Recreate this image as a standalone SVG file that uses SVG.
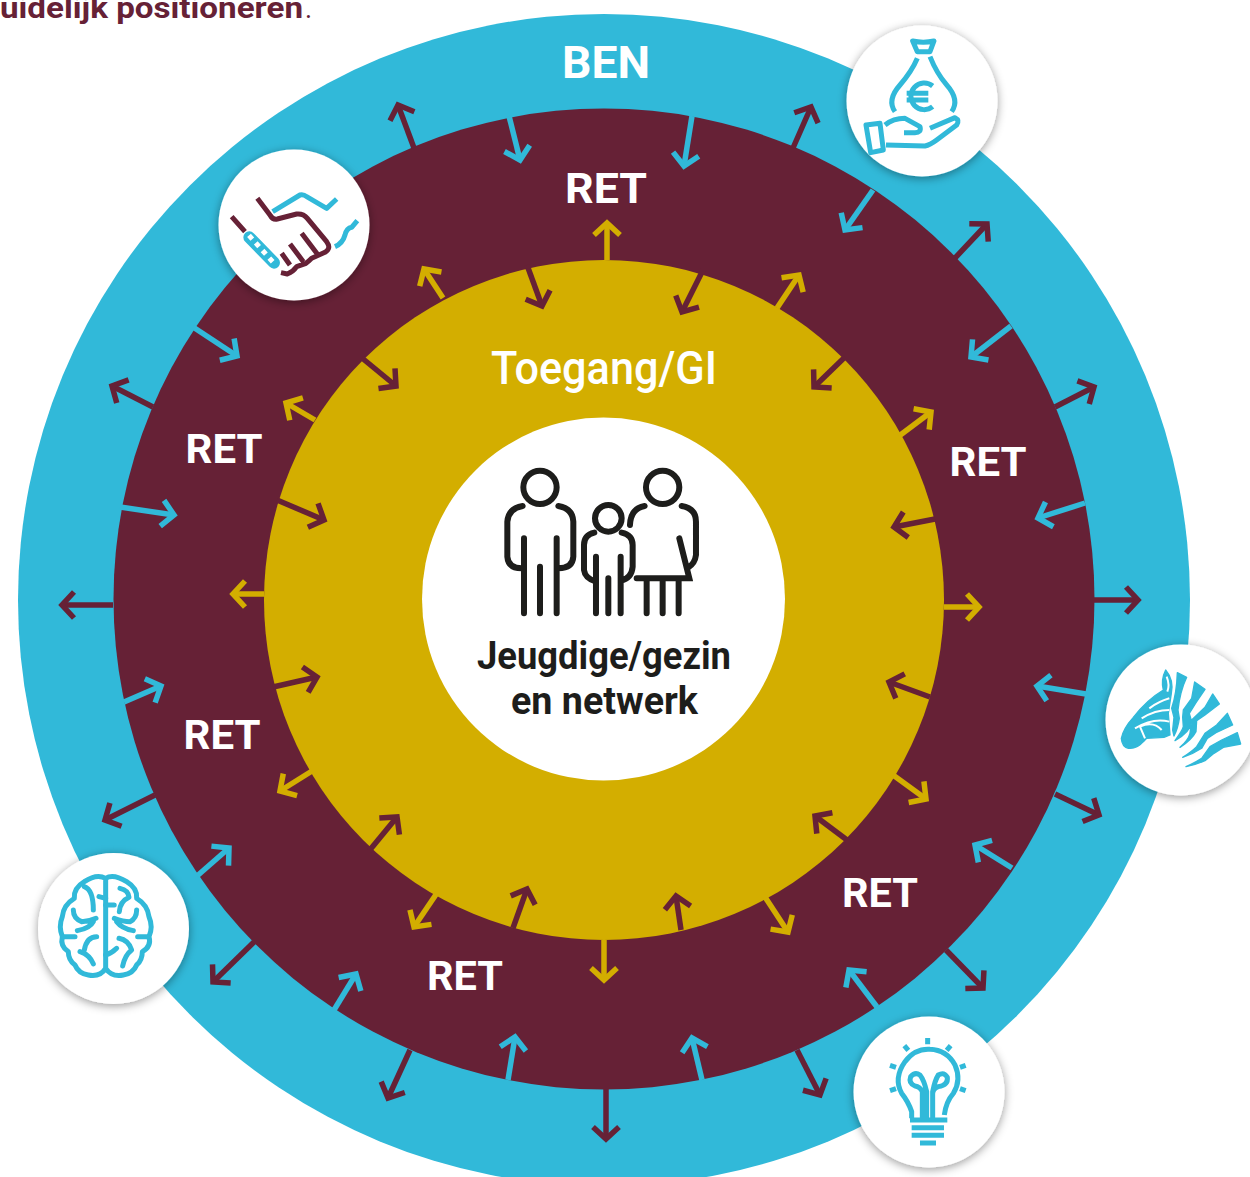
<svg xmlns="http://www.w3.org/2000/svg" width="1250" height="1177" viewBox="0 0 1250 1177">
<style>
text{font-family:Roboto,"Liberation Sans",sans-serif;font-weight:700;fill:#fff;text-anchor:middle}
.dk{fill:#1d1d1b}
.c line{stroke-width:5.500;fill:none}
.t{stroke:#31b9d9}.m{stroke:#662136}.g{stroke:#d3ae00}
.ic{fill:none;stroke-width:15;stroke-linejoin:round}
.dw{fill:#fff;filter:url(#sh)}
</style>
<defs>
<filter id="sh" x="-20%" y="-20%" width="140%" height="140%"><feDropShadow dx="0" dy="2" stdDeviation="5" flood-color="#000" flood-opacity=".4"/></filter>
<marker id="ht" markerUnits="userSpaceOnUse" markerWidth="40" markerHeight="40" refX="20" refY="20" orient="auto"><path d="M8 7 L20 20 L8 33" fill="none" stroke="#31b9d9" stroke-width="5.500"/></marker>
<marker id="hm" markerUnits="userSpaceOnUse" markerWidth="40" markerHeight="40" refX="20" refY="20" orient="auto"><path d="M8 7 L20 20 L8 33" fill="none" stroke="#662136" stroke-width="5.500"/></marker>
<marker id="hg" markerUnits="userSpaceOnUse" markerWidth="40" markerHeight="40" refX="20" refY="20" orient="auto"><path d="M8 7 L20 20 L8 33" fill="none" stroke="#d3ae00" stroke-width="5.500"/></marker>
</defs>
<rect width="1250" height="1177" fill="#fff"/>
<text x="0" y="18" style="font-size:30px;fill:#662136;text-anchor:start" textLength="303" lengthAdjust="spacingAndGlyphs">uidelijk positioneren</text>
<text x="305" y="18" style="font-size:27px;font-weight:400;fill:#662136;text-anchor:start">.</text>
<g id="ring-ben"><circle cx="604" cy="600" r="586" fill="#31b9d9"/><text x="606" y="78" style="font-size:45px" textLength="88" lengthAdjust="spacingAndGlyphs">BEN</text></g>
<g id="ring-ret"><circle cx="604" cy="599" r="490.500" fill="#662136"/>
<text x="606" y="203" style="font-size:43px" textLength="82" lengthAdjust="spacingAndGlyphs">RET</text>
<text x="988" y="476" style="font-size:41px" textLength="77" lengthAdjust="spacingAndGlyphs">RET</text>
<text x="224" y="463" style="font-size:41px" textLength="77" lengthAdjust="spacingAndGlyphs">RET</text>
<text x="222" y="749" style="font-size:41px" textLength="77" lengthAdjust="spacingAndGlyphs">RET</text>
<text x="880" y="907" style="font-size:41px" textLength="76" lengthAdjust="spacingAndGlyphs">RET</text>
<text x="465" y="990" style="font-size:41px" textLength="76" lengthAdjust="spacingAndGlyphs">RET</text></g>
<g id="ring-toegang"><circle cx="604" cy="600" r="340" fill="#d3ae00"/><text x="604" y="384" style="font-size:46px;font-weight:500" textLength="226" lengthAdjust="spacingAndGlyphs">Toegang/GI</text></g>
<g id="connectors" class="c">
<line class="m" x1="414" y1="148" x2="398" y2="105" marker-end="url(#hm)"/>
<line class="t" x1="509" y1="116" x2="520" y2="160" marker-end="url(#ht)"/>
<line class="t" x1="692" y1="116" x2="684" y2="166" marker-end="url(#ht)"/>
<line class="m" x1="793" y1="148" x2="811" y2="107" marker-end="url(#hm)"/>
<line class="t" x1="873" y1="190" x2="845" y2="230" marker-end="url(#ht)"/>
<line class="m" x1="955" y1="258" x2="987" y2="224" marker-end="url(#hm)"/>
<line class="t" x1="1011" y1="326" x2="971" y2="357" marker-end="url(#ht)"/>
<line class="m" x1="1055" y1="407" x2="1094" y2="387" marker-end="url(#hm)"/>
<line class="t" x1="1085" y1="503" x2="1038" y2="518" marker-end="url(#ht)"/>
<line class="m" x1="1094" y1="600" x2="1138" y2="600" marker-end="url(#hm)"/>
<line class="t" x1="1086" y1="694" x2="1037" y2="686" marker-end="url(#ht)"/>
<line class="m" x1="1055" y1="794" x2="1099" y2="815" marker-end="url(#hm)"/>
<line class="t" x1="1012" y1="868" x2="975" y2="845" marker-end="url(#ht)"/>
<line class="m" x1="946" y1="950" x2="983" y2="988" marker-end="url(#hm)"/>
<line class="t" x1="877" y1="1007" x2="849" y2="970" marker-end="url(#ht)"/>
<line class="m" x1="797" y1="1050" x2="820" y2="1095" marker-end="url(#hm)"/>
<line class="t" x1="702" y1="1080" x2="692" y2="1038" marker-end="url(#ht)"/>
<line class="m" x1="606" y1="1089" x2="606" y2="1139" marker-end="url(#hm)"/>
<line class="t" x1="508" y1="1080" x2="515" y2="1037" marker-end="url(#ht)"/>
<line class="m" x1="410" y1="1050" x2="388" y2="1098" marker-end="url(#hm)"/>
<line class="t" x1="334" y1="1010" x2="356" y2="974" marker-end="url(#ht)"/>
<line class="m" x1="254" y1="942" x2="213" y2="982" marker-end="url(#hm)"/>
<line class="t" x1="197" y1="876" x2="229" y2="848" marker-end="url(#ht)"/>
<line class="m" x1="155" y1="795" x2="105" y2="820" marker-end="url(#hm)"/>
<line class="t" x1="124" y1="702" x2="161" y2="686" marker-end="url(#ht)"/>
<line class="m" x1="113" y1="605" x2="62" y2="605" marker-end="url(#hm)"/>
<line class="t" x1="120" y1="507" x2="174" y2="515" marker-end="url(#ht)"/>
<line class="m" x1="153" y1="407" x2="112" y2="386" marker-end="url(#hm)"/>
<line class="t" x1="193" y1="327" x2="237" y2="356" marker-end="url(#ht)"/>
<line class="g" x1="607" y1="260" x2="607" y2="223" marker-end="url(#hg)"/>
<line class="m" x1="527" y1="265" x2="542" y2="306" marker-end="url(#hm)"/>
<line class="m" x1="703" y1="270" x2="682" y2="312" marker-end="url(#hm)"/>
<line class="g" x1="777" y1="308" x2="799" y2="275" marker-end="url(#hg)"/>
<line class="m" x1="845" y1="357" x2="814" y2="387" marker-end="url(#hm)"/>
<line class="g" x1="899" y1="436" x2="931" y2="412" marker-end="url(#hg)"/>
<line class="m" x1="935" y1="519" x2="894" y2="527" marker-end="url(#hm)"/>
<line class="g" x1="944" y1="607" x2="979" y2="607" marker-end="url(#hg)"/>
<line class="m" x1="930" y1="697" x2="889" y2="682" marker-end="url(#hm)"/>
<line class="g" x1="893" y1="775" x2="926" y2="799" marker-end="url(#hg)"/>
<line class="m" x1="847" y1="840" x2="815" y2="816" marker-end="url(#hm)"/>
<line class="g" x1="765" y1="897" x2="788" y2="932" marker-end="url(#hg)"/>
<line class="m" x1="681" y1="930" x2="676" y2="896" marker-end="url(#hm)"/>
<line class="g" x1="604" y1="940" x2="604" y2="980" marker-end="url(#hg)"/>
<line class="m" x1="513" y1="928" x2="527" y2="889" marker-end="url(#hm)"/>
<line class="g" x1="437" y1="893" x2="414" y2="927" marker-end="url(#hg)"/>
<line class="m" x1="369" y1="851" x2="397" y2="817" marker-end="url(#hm)"/>
<line class="g" x1="312" y1="771" x2="280" y2="791" marker-end="url(#hg)"/>
<line class="m" x1="273" y1="687" x2="317" y2="677" marker-end="url(#hm)"/>
<line class="g" x1="264" y1="594" x2="233" y2="594" marker-end="url(#hg)"/>
<line class="m" x1="277" y1="500" x2="324" y2="520" marker-end="url(#hm)"/>
<line class="g" x1="315" y1="420" x2="286" y2="403" marker-end="url(#hg)"/>
<line class="m" x1="362" y1="358" x2="396" y2="386" marker-end="url(#hm)"/>
<line class="g" x1="443" y1="298" x2="424" y2="269" marker-end="url(#hg)"/>
</g>
<g id="center"><circle cx="603.500" cy="599" r="181.500" fill="#fff"/>
<g transform="translate(470,450) scale(.3333)" fill="none" stroke="#1d1d1b" stroke-width="18" stroke-linecap="round">
<circle cx="210" cy="112" r="50"/><path d="M158 168Q115 175 112 215V320Q115 355 155 355M265 168Q308 175 310 215V320Q308 355 265 355M162 265V490M210 350V490M260 265V490"/>
<circle cx="415" cy="205" r="40"/><path d="M373 248Q342 255 342 285V360Q345 385 378 395M455 248Q488 255 488 285V350Q485 385 452 392M378 320V490M415 385V490M452 320V490"/>
<circle cx="578" cy="112" r="50"/><path d="M524 168Q482 175 480 225M635 168Q678 175 678 215V315Q675 340 655 352M628 265L658 385H500M530 385V490M578 385V490M626 385V490"/>
</g>
<text class="dk" x="604" y="669" style="font-size:38px" textLength="254" lengthAdjust="spacingAndGlyphs">Jeugdige/gezin</text>
<text class="dk" x="604.500" y="714" style="font-size:38px" textLength="187" lengthAdjust="spacingAndGlyphs">en netwerk</text></g>
<g id="icon-handshake"><circle class="dw" cx="294" cy="225" r="75.500"/>
<g transform="translate(200,130) scale(.3333)" class="ic"><path stroke="#662136" d="M95 260L135 305M172 205L210 255Q218 270 232 267L290 252Q310 250 322 265L380 335Q395 355 375 367L335 385Q325 395 318 400L290 410Q280 425 262 432L243 428M305 310L352 372M270 342L310 395M245 370L270 405"/>
<path stroke="#31b9d9" d="M218 245L300 195Q310 192 320 200L380 235L410 207M405 350Q428 340 435 315Q440 295 455 292L472 272"/>
<path stroke="#31b9d9" style="stroke-width:36px;stroke-linecap:round" d="M148 322L222 398"/>
<path stroke="#fff" style="stroke-width:15px;stroke-dasharray:15 15.500" d="M147 316L224 402"/></g></g>
<g id="icon-money"><circle class="dw" cx="922" cy="101" r="75.500"/>
<g transform="translate(830,10) scale(.3333)" class="ic" stroke="#31b9d9"><path d="M248 93Q280 100 312 93L300 125H262ZM262 145Q245 185 210 225Q170 270 195 305M300 140Q320 190 350 225Q390 270 365 305M308 228A40 40 0 1 0 308 290M230 250H295M230 270H295M108 345L150 340L160 420L122 428ZM165 345Q190 325 225 325L270 350Q275 368 255 368H222M168 405L285 408Q300 405 320 390L380 345Q390 330 375 323L300 355"/></g></g>
<g id="icon-zebra"><circle class="dw" cx="1181" cy="720" r="75.500"/>
<g transform="translate(1090,630) scale(.3333)" fill="#31b9d9" stroke="#31b9d9" stroke-width="4" stroke-linejoin="round"><path d="M227 120Q252 150 244 190L235 250L240 315L222 322L170 325L160 335Q140 358 115 355Q96 350 94 325Q100 295 130 262Q170 210 220 180Q212 150 227 120Z"/>
<path d="M262 128L290 142Q270 185 264 240L268 265Q264 295 252 318L248 300L252 262L245 235Q260 190 262 128ZM314 156L345 178L318 218L298 250L305 275Q302 305 255 332Q278 300 280 290L278 262L280 240L305 205ZM368 192L388 222L345 255L320 272L318 305Q305 330 270 352Q295 330 300 310L305 270L345 232ZM412 250L428 285L378 308L352 325L335 355Q310 372 278 382Q305 365 320 350L345 310L380 285ZM442 308L452 342L400 352L372 370L345 392Q315 405 288 410Q315 398 335 385L360 350L395 330Z"/>
<path fill="none" stroke="#fff" stroke-width="6" d="M230 140Q240 165 232 185M238 205Q205 215 178 235M238 240Q195 240 155 265M238 275Q190 262 135 295M215 300Q190 272 150 290L165 325"/></g></g>
<g id="icon-bulb"><circle class="dw" cx="929" cy="1092" r="75.500"/>
<g transform="translate(840,1005) scale(.3333)" class="ic" stroke="#31b9d9"><path d="M263 99V118M193 122L205 136M332 122L320 136M150 181L168 187M377 181L360 187M150 257L168 251M377 257L360 251M210 345H322M215 368H312M215 391H312M240 414H288M215 340V320Q205 290 185 265Q160 220 195 170Q225 130 270 133Q320 135 345 180Q365 225 340 265Q318 290 313 330M247 340V260Q240 245 225 243Q205 235 212 215Q225 200 240 210Q252 225 260 260V340M278 340V260Q285 225 295 210Q312 200 322 217Q325 240 295 245Q280 250 278 265"/></g></g>
<g id="icon-brain"><circle class="dw" cx="113.500" cy="928.500" r="75.500"/>
<g transform="translate(25,840) scale(.3333)" class="ic" stroke="#31b9d9" stroke-linecap="round"><path d="M242 115V385Q225 412 190 405Q160 400 150 375Q130 360 130 335Q105 320 112 290Q100 260 112 230Q115 195 148 175Q145 145 178 125Q215 100 242 115ZM242 115Q265 100 305 125Q338 145 335 175Q368 195 372 230Q385 260 372 290Q380 320 352 335Q352 360 335 375Q325 400 295 405Q260 412 242 385"/>
<path d="M178 140Q205 150 205 210M145 210Q145 235 170 245Q190 245 213 235M115 290H150M157 272Q195 265 205 245M215 290Q185 290 178 330M165 335Q195 345 205 372M242 175L222 170M242 195H268M285 145Q310 150 312 172Q285 185 283 215M335 210Q335 235 315 245Q295 245 268 235M368 290H338M325 272Q290 265 275 245M282 295Q310 300 320 330Q300 345 293 378M242 345Q260 340 275 325"/></g></g>
</svg>
